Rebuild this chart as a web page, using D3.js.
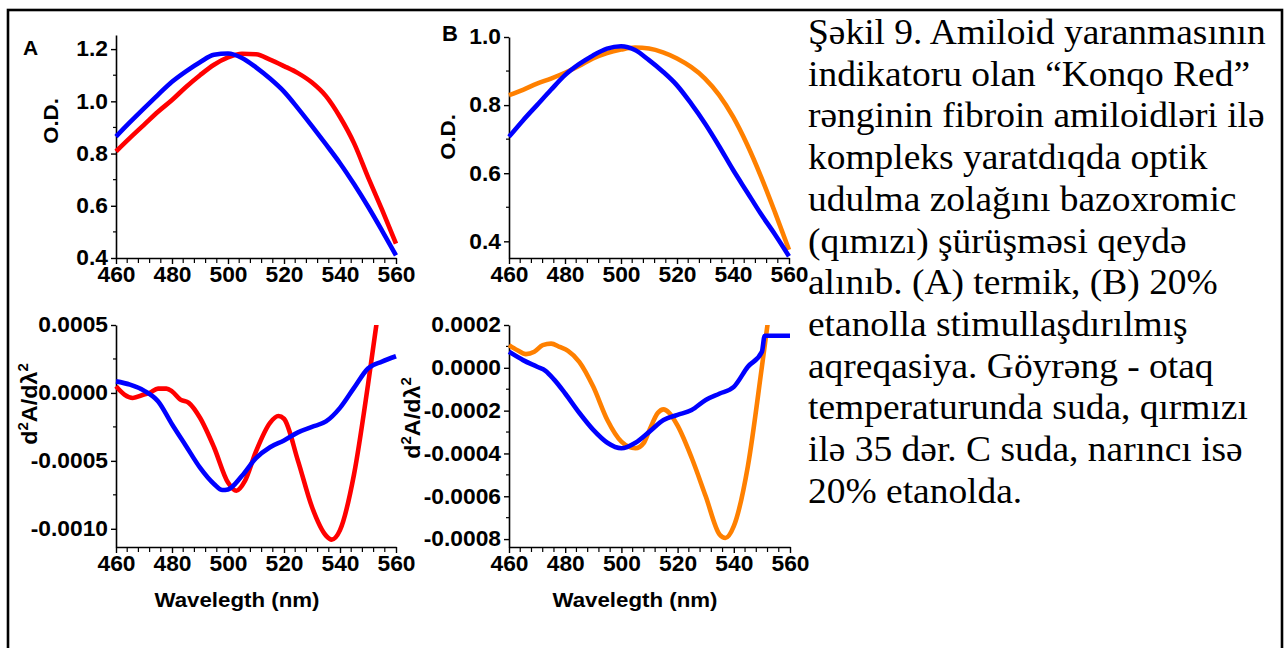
<!doctype html>
<html lang=en>

<head>
  <meta charset=utf-8>
  <title>Şəkil 9</title>
  <style>
    body { margin: 0; background: #fff; }
    text { font-family: "Liberation Sans", Arial, sans-serif; font-weight: bold; fill: #000; }
    .caption { font-family: "Liberation Serif", "Times New Roman", serif; font-weight: normal; }
  </style>
</head>

<body>
  <svg></svg>
  <script src="https://d3js.org/d3.v7.min.js"></script>
  <script>
    var width = 1288;
    var height = 648;

    // wavelength grid for the absorbance spectra
    var wl = [460, 465, 470, 475, 480, 485, 490, 495, 500, 505, 510, 515, 520, 525, 530, 535, 540, 545, 550, 555, 560];

    // panel A, O.D.
    var odRedA = [0.808, 0.86, 0.91, 0.96, 1.005, 1.055, 1.10, 1.14, 1.168, 1.182, 1.18, 1.16, 1.135, 1.108, 1.072, 1.02, 0.94, 0.84, 0.71, 0.585, 0.455];
    var odBlueA = [0.865, 0.92, 0.973, 1.025, 1.075, 1.115, 1.15, 1.178, 1.183, 1.166, 1.13, 1.087, 1.037, 0.973, 0.905, 0.835, 0.763, 0.683, 0.597, 0.505, 0.41];
    // panel B, O.D.
    var odOrangeB = [0.829, 0.845, 0.863, 0.878, 0.895, 0.915, 0.937, 0.953, 0.963, 0.969, 0.966, 0.955, 0.937, 0.912, 0.878, 0.83, 0.766, 0.685, 0.59, 0.485, 0.375];
    var odBlueB = [0.707, 0.755, 0.80, 0.845, 0.888, 0.92, 0.946, 0.966, 0.973, 0.962, 0.932, 0.898, 0.858, 0.805, 0.746, 0.68, 0.61, 0.545, 0.48, 0.42, 0.356];

    // second derivative spectra (x, value)
    var d2RedA = [[460, 4.9e-5], [463, -1.2e-5], [466, -3.7e-5], [470, -1.2e-5], [472, 0], [475, 3.2e-5], [478, 3.2e-5], [480, 1.2e-5], [483, -4.9e-5], [486, -7.3e-5], [490, -1.83e-4], [495, -4.0e-4], [500, -6.6e-4], [503, -7.2e-4], [506, -6.5e-4], [510, -4.3e-4], [515, -2.2e-4], [518, -1.7e-4], [520, -1.9e-4], [525, -5.0e-4], [530, -8.4e-4], [535, -1.05e-3], [537, -1.08e-3], [540, -1.01e-3], [545, -6.0e-4], [550, 6e-5], [554, 6.5e-4]];
    var d2BlueA = [[460, 8.5e-5], [465, 6.1e-5], [470, 1.7e-5], [475, -6.1e-5], [480, -2.3e-4], [485, -3.9e-4], [490, -5.5e-4], [495, -6.7e-4], [498, -7.15e-4], [500, -7.1e-4], [505, -6.1e-4], [510, -4.8e-4], [515, -4.0e-4], [520, -3.5e-4], [525, -2.9e-4], [530, -2.5e-4], [535, -2.1e-4], [540, -1.1e-4], [545, 3.7e-5], [550, 1.8e-4], [555, 2.3e-4], [560, 2.7e-4]];
    var d2OrangeB = [[460, 1.06e-4], [463, 8.2e-5], [466, 6.4e-5], [469, 7.5e-5], [472, 1.06e-4], [475, 1.13e-4], [478, 9.8e-5], [481, 7.9e-5], [485, 2.8e-5], [490, -8.9e-5], [495, -2.44e-4], [500, -3.45e-4], [505, -3.76e-4], [508, -3.5e-4], [510, -2.9e-4], [513, -2.1e-4], [515, -1.94e-4], [517, -2.1e-4], [520, -2.7e-4], [525, -4.2e-4], [530, -6.0e-4], [535, -7.8e-4], [537, -7.95e-4], [540, -7.4e-4], [545, -4.6e-4], [550, 5e-6], [553, 3.0e-4]];
    var d2BlueB = [[460, 7.5e-5], [465, 3.6e-5], [470, 5e-6], [473, -1.4e-5], [476, -5.4e-5], [480, -1.2e-4], [485, -2.1e-4], [490, -2.9e-4], [495, -3.5e-4], [500, -3.76e-4], [505, -3.5e-4], [510, -2.98e-4], [515, -2.44e-4], [520, -2.2e-4], [525, -1.97e-4], [530, -1.5e-4], [535, -1.2e-4], [540, -8.9e-5], [545, 5e-6], [550, 7.5e-5], [551, 1.5e-4], [555, 1.5e-4], [560, 1.5e-4]];

    // tick labels
    var xTicks = [460, 480, 500, 520, 540, 560];
    var yTicksA = ["0.4", "0.6", "0.8", "1.0", "1.2"];
    var yTicksB = ["0.4", "0.6", "0.8", "1.0"];
    var yTicksC = ["-0.0010", "-0.0005", "0.0000", "0.0005"];
    var yTicksD = ["-0.0008", "-0.0006", "-0.0004", "-0.0002", "0.0000", "0.0002"];

    var caption = [
      "Şəkil 9. Amiloid yaranmasının",
      "indikatoru olan “Konqo Red”",
      "rənginin fibroin amiloidləri ilə",
      "kompleks yaratdıqda optik",
      "udulma zolağını bazoxromic",
      "(qımızı) şürüşməsi qeydə",
      "alınıb. (A) termik, (B) 20%",
      "etanolla stimullaşdırılmış",
      "aqreqasiya. Göyrəng - otaq",
      "temperaturunda suda, qırmızı",
      "ilə 35 dər. C suda, narıncı isə",
      "20% etanolda."
    ];

    var RED = "#ff0000", BLUE = "#0000ff", ORANGE = "#ff8000";

    var svg = d3.select("svg")
      .attr("width", width)
      .attr("height", height)
      .style("display", "block");

    // outer frame
    svg.append("rect")
      .attr("x", 8).attr("y", 10)
      .attr("width", 1274).attr("height", 700)
      .attr("fill", "none").attr("stroke", "#000").attr("stroke-width", 2.6);

    function panel(opt) {
      var x = d3.scaleLinear().domain([460, 560]).range([opt.x0, opt.x1]);
      var y = d3.scaleLinear().domain(opt.yDomain).range([opt.y1, opt.y0]);
      var g = svg.append("g");

      var clipId = "clip" + opt.id;
      svg.append("clipPath").attr("id", clipId)
        .append("rect")
        .attr("x", opt.x0 - 4).attr("y", opt.y0)
        .attr("width", opt.x1 - opt.x0 + 8).attr("height", opt.y1 - opt.y0 + 2);

      // minor ticks
      var xMinor = d3.range(460, 561, 4).filter(function (v) { return xTicks.indexOf(v) < 0; });
      g.selectAll(".xminor").data(xMinor).join("line")
        .attr("x1", x).attr("x2", x)
        .attr("y1", opt.y1).attr("y2", opt.y1 + 5)
        .attr("stroke", "#000").attr("stroke-width", 1.2);
      g.selectAll(".yminor").data(opt.yMinor).join("line")
        .attr("y1", y).attr("y2", y)
        .attr("x1", opt.x0 - 3).attr("x2", opt.x0)
        .attr("stroke", "#000").attr("stroke-width", 1.2);

      var xAxis = g.append("g")
        .attr("transform", "translate(0," + opt.y1 + ")")
        .call(d3.axisBottom(x).tickValues(xTicks).tickSize(6).tickPadding(3).tickSizeOuter(0));
      var yAxis = g.append("g")
        .attr("transform", "translate(" + opt.x0 + ",0)")
        .call(d3.axisLeft(y).tickValues(opt.yTicks.map(Number))
          .tickFormat(function (d, i) { return opt.yTicks[i]; })
          .tickSize(5).tickPadding(3).tickSizeOuter(0));

      [xAxis, yAxis].forEach(function (a) {
        a.attr("font-size", null).attr("font-family", null);
        a.select(".domain").attr("stroke", "#000").attr("stroke-width", 1.6);
        a.selectAll(".tick line").attr("stroke", "#000").attr("stroke-width", 1.4);
        a.selectAll("text").attr("font-size", 21.5).attr("fill", "#000")
          .classed("wide", true);
      });

      var line = d3.line()
        .x(function (d) { return x(d[0]); })
        .y(function (d) { return y(d[1]); })
        .curve(d3.curveMonotoneX);

      opt.series.forEach(function (s) {
        g.append("path")
          .datum(s.data)
          .attr("clip-path", "url(#" + clipId + ")")
          .attr("fill", "none")
          .attr("stroke", s.color)
          .attr("stroke-width", 4.6)
          .attr("stroke-linejoin", "round")
          .attr("d", line);
      });
      return g;
    }

    function zip(xs, ys) { return xs.map(function (v, i) { return [v, ys[i]]; }); }

    panel({
      id: "a", x0: 116, x1: 396, y0: 35, y1: 258, yDomain: [0.4, 1.254],
      yTicks: yTicksA, yMinor: [0.5, 0.7, 0.9, 1.1],
      series: [{ data: zip(wl, odRedA), color: RED }, { data: zip(wl, odBlueA), color: BLUE }]
    });
    panel({
      id: "b", x0: 509, x1: 789, y0: 37, y1: 258, yDomain: [0.351, 1.0],
      yTicks: yTicksB, yMinor: [0.5, 0.7, 0.9],
      series: [{ data: zip(wl, odOrangeB), color: ORANGE }, { data: zip(wl, odBlueB), color: BLUE }]
    });
    panel({
      id: "c", x0: 116, x1: 396, y0: 325, y1: 547, yDomain: [-0.001134, 0.0005],
      yTicks: yTicksC, yMinor: [-0.00075, -0.00025, 0.00025],
      series: [{ data: d2RedA, color: RED }, { data: d2BlueA, color: BLUE }]
    });
    panel({
      id: "d", x0: 509, x1: 790, y0: 325, y1: 547, yDomain: [-0.000837, 0.0002],
      yTicks: yTicksD, yMinor: [-0.0007, -0.0005, -0.0003, -0.0001, 0.0001],
      series: [{ data: d2OrangeB, color: ORANGE }, { data: d2BlueB, color: BLUE }]
    });

    // panel letters
    svg.append("text").attr("x", 23).attr("y", 55).attr("font-size", 21).text("A");
    svg.append("text").attr("x", 442).attr("y", 41).attr("font-size", 22).text("B");

    // y titles
    function yTitle(cx, cy, withSup) {
      var t = svg.append("text")
        .attr("class", "wide")
        .attr("transform", "translate(" + cx + "," + cy + ") rotate(-90)")
        .attr("text-anchor", "middle")
        .attr("font-size", 21);
      if (!withSup) { t.text("O.D."); return; }
      t.attr("font-size", 22);
      t.append("tspan").text("d");
      t.append("tspan").attr("font-size", 14).attr("dy", -9).text("2");
      t.append("tspan").attr("dy", 9).text("A/dλ");
      t.append("tspan").attr("font-size", 14).attr("dy", -9).text("2");
    }
    yTitle(58, 121, false);
    yTitle(455, 137, false);
    yTitle(37, 404, true);
    yTitle(420, 418, true);

    // x titles
    svg.append("text").attr("class", "wide").attr("x", 237).attr("y", 607).attr("text-anchor", "middle").attr("font-size", 21).text("Wavelegth (nm)");
    svg.append("text").attr("class", "wide").attr("x", 635).attr("y", 607).attr("text-anchor", "middle").attr("font-size", 21).text("Wavelegth (nm)");

    // caption
    svg.append("g").selectAll("text").data(caption).join("text")
      .attr("class", "caption")
      .attr("x", 808)
      .attr("y", function (d, i) { return 44 + i * 41.7; })
      .attr("font-size", 35)
      .text(function (d) { return d; });

    // the source figure is a little wider than tall; widen the glyphs to match
    function widen(sel, f) {
      sel.each(function () {
        var w = this.getComputedTextLength();
        d3.select(this).attr("textLength", w * f).attr("lengthAdjust", "spacingAndGlyphs");
      });
    }
    widen(svg.selectAll("text.wide"), 1.06);
    widen(svg.selectAll("text.caption"), 1.07);
  </script>
</body>

</html>
